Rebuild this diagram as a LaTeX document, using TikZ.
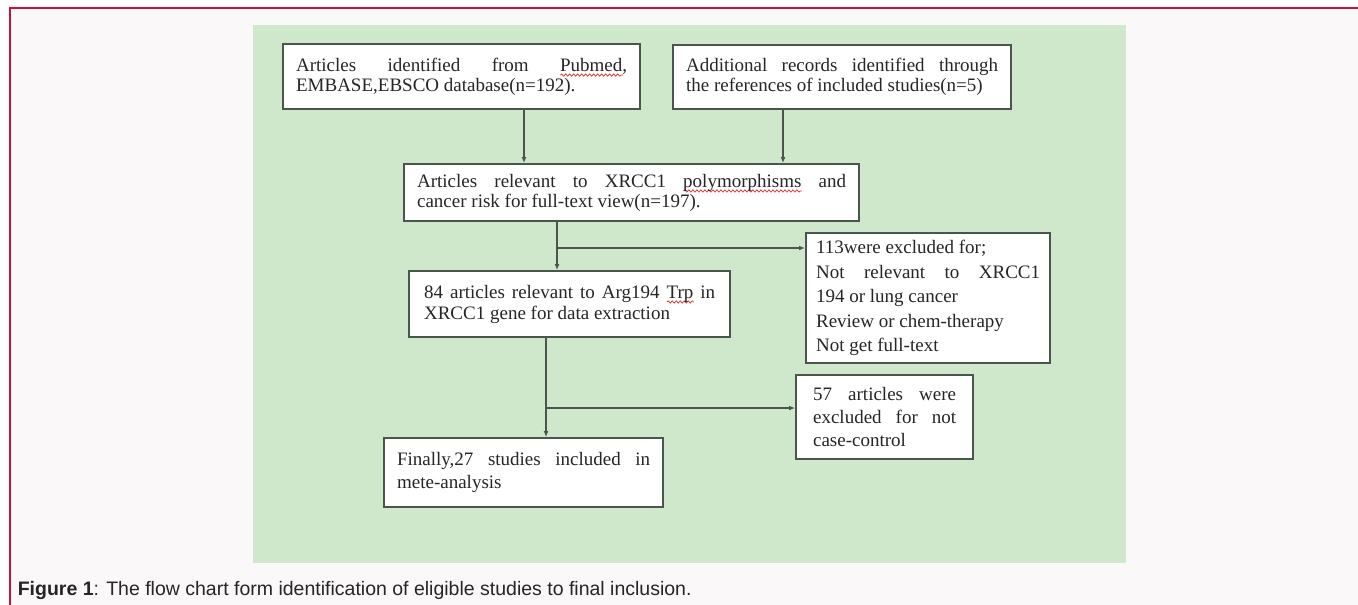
\documentclass[tikz,border=0pt]{standalone}
\usepackage{fontspec}
\setmainfont{Liberation Serif}
\setsansfont{Liberation Sans}
\usetikzlibrary{arrows.meta, positioning, decorations.pathmorphing}
\definecolor{cframe}{HTML}{C8103C}
\definecolor{cpaper}{HTML}{FAF8F9}
\definecolor{cgreen}{HTML}{CFE7CB}
\definecolor{cline}{HTML}{4A554C}
\definecolor{ctext}{HTML}{262626}
\definecolor{cspell}{HTML}{E23B3B}
\newlength{\spellw}
\newcommand{\spellwave}[1]{\settowidth{\spellw}{#1}\rlap{\tikz[baseline=0pt]\draw[cspell, line width=0.8pt, decorate, decoration={snake, amplitude=1.1pt, segment length=4pt}] (0pt,-3.8pt) -- (\spellw,-3.8pt);}#1}
\newcommand{\boxfont}[1]{\fontsize{19}{#1}\selectfont\tolerance 10000\relax\hbadness 10000\relax}
\tikzset{
  every picture/.style={line width=1.6pt},
  stagebox/.style={draw=cline, fill=white, line width=2.2pt, anchor=north west, align=justify, inner xsep=13pt, inner ysep=0pt, text=ctext, font={\boxfont{#1}}},
  stagebox/.default=20,
  flow/.style={-{Latex[length=6pt, width=5pt]}, draw=cline, line width=1.6pt},
  caption/.style={font=\sffamily\fontsize{19.5}{22}\selectfont, text=ctext, anchor=west, inner sep=0pt},
}

\begin{document}
\begin{tikzpicture}[x=1pt, y=-1pt]
  \useasboundingbox (0,0) rectangle (1358,605);
  % page frame and green panel
  \fill[white] (0,0) rectangle (1358,605);
  \fill[cpaper] (10,8) rectangle (1358,605);
  \draw[cframe, line width=1.5pt] (10,605) -- (10,8) -- (1358,8);
  \fill[cgreen] (253,25) rectangle (1126,563);
  % the boxes
  \node[stagebox, minimum width=357pt, minimum height=65pt, text width=331pt] (ident) at (282,43)
    {Articles identified from \spellwave{Pubmed},\linebreak EMBASE,EBSCO database(n=192).};
  \node[stagebox, minimum width=338pt, minimum height=64pt, text width=312pt] (extra) at (672,44)
    {Additional records identified through\linebreak the references of included studies(n=5)};
  \node[stagebox, minimum width=455pt, minimum height=57pt, text width=429pt] (merged) at (403,163)
    {Articles relevant to XRCC1 \spellwave{polymorphisms} and\linebreak cancer risk for full-text view(n=197).};
  \node[stagebox=24.5, minimum width=244pt, minimum height=130pt, text width=224pt, inner xsep=7pt] (excl1) at (805,232)
    {113were excluded for;\newline Not relevant to XRCC1\linebreak 194 or lung cancer\newline Review or chem-therapy\newline Not get full-text};
  \node[stagebox=21, minimum width=321pt, minimum height=66pt, text width=291pt, inner xsep=15pt] (relev) at (408,270)
    {84 articles relevant to Arg194 \spellwave{Trp} in\linebreak XRCC1 gene for data extraction};
  \node[stagebox=23, minimum width=177pt, minimum height=84pt, text width=143pt, inner xsep=17pt] (excl2) at (795,374)
    {57 articles were\linebreak excluded for not\linebreak case-control};
  \node[stagebox=23, minimum width=279pt, minimum height=69pt, text width=253pt] (final) at (383,437)
    {Finally,27 studies included in\linebreak mete-analysis};
  % connectors
  \coordinate (xa) at (524,0);
  \coordinate (xb) at (783,0);
  \coordinate (j1) at (557,248);
  \coordinate (j2) at (546,408);
  \draw[flow] (ident.south -| xa) -- (merged.north -| xa);
  \draw[flow] (extra.south -| xb) -- (merged.north -| xb);
  \draw[flow] (merged.south -| j1) -- (relev.north -| j1);
  \draw[flow] (j1) -- (excl1.west |- j1);
  \draw[flow] (relev.south -| j2) -- (final.north -| j2);
  \draw[flow] (j2) -- (excl2.west |- j2);
  \node[caption] (caption) at (17,590) {\textbf{Figure 1}: The flow chart form identification of eligible studies to final inclusion.};
\end{tikzpicture}
\end{document}
